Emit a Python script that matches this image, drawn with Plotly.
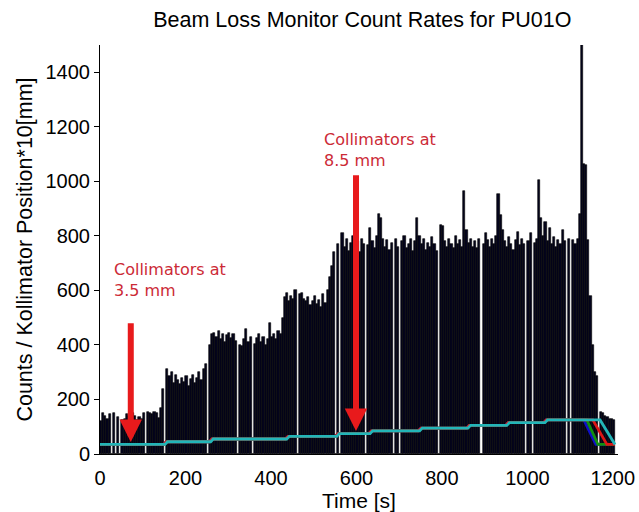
import plotly.graph_objects as go

# ---- data -------------------------------------------------------------
bin_width = 5  # seconds per bin
counts = [
    # t 0-140
    120, 150, 140, 130, 145, 0, 150, 0, 135, 0,
    125, 130, 145, 140, 120, 150, 140, 125, 135, 130,
    150, 0, 155, 150, 145, 155, 150, 132,
    # t 140-250
    170, 240, 0, 310, 285, 300, 260, 290, 270, 255,
    280, 265, 285, 250, 275, 290, 260, 280, 300, 270,
    310, 330,
    # t 250-425
    0, 400, 440, 445, 430, 450, 420, 440, 410, 435,
    445, 425, 440, 415, 0, 400, 395, 420, 460, 410,
    430, 0, 405, 425, 440, 410, 430, 400, 420, 480,
    430, 440, 420, 450, 440,
    # t 425-570
    500, 575, 590, 560, 580, 570, 600, 0, 585, 590,
    570, 560, 575, 545, 560, 580, 550, 565, 540, 585,
    555, 600, 650, 690, 740, 0, 770, 0, 810,
    # t 570-1165
    760, 790, 745, 775, 800, 760, 780, 740, 790, 770,
    0, 765, 830, 780, 755, 800, 880, 865, 790, 760,
    785, 750, 775, 0, 790, 760, 0, 780, 800, 755,
    770, 790, 745, 780, 865, 800, 770, 790, 750, 775,
    760, 795, 770, 745, 0, 840, 835, 780, 760, 790,
    770, 755, 800, 770, 785, 760, 965, 820, 775, 790,
    760, 780, 755, 790, 0, 770, 810, 785, 760, 790,
    770, 800, 955, 875, 820, 780, 760, 795, 770, 750,
    785, 815, 765, 790, 770, 0, 780, 810, 0, 775,
    790, 1005, 865, 800, 850, 780, 830, 770, 795, 760,
    785, 770, 820, 780, 0, 790, 0, 785, 770, 790,
    880, 1500, 1065, 1060, 785, 580, 400, 300, 285,
    # t 1165-1205
    0, 155, 150, 140, 135, 130, 130, 125,
]
bin_centers = [bin_width * i + bin_width / 2 for i in range(len(counts))]

# collimator position * 10 [mm]
step_times = [152, 259, 437, 554, 632, 748, 861, 952, 1041]
levels = [35, 45, 55, 65, 75, 85, 95, 105, 115, 125]
ramp = 6
jaws = {  # name: (colour, time offset of steps, retract start, retract end)
    "blue": ("#1010c8", -3, 1132, 1160),
    "green": ("#109010", -2, 1139, 1165),
    "red": ("#dd1515", -3, 1153, 1186),
    "cyan": ("#22b5b8", 0, 1170, 1205),
}
t_end = 1205

x_ticks = [0, 200, 400, 600, 800, 1000, 1200]
y_ticks = [0, 200, 400, 600, 800, 1000, 1200, 1400]

notes = [
    # text, text x, text top y, arrow x, arrow tail y, arrow tip y
    ("Collimators at<br>3.5 mm", 28, 718, 72, 485, 44),
    ("Collimators at<br>8.5 mm", 519, 1196, 599, 1028, 84),
]

# ---- figure -----------------------------------------------------------
fig = go.Figure()
fig.add_trace(go.Bar(
    x=bin_centers, y=counts, width=bin_width,
    marker=dict(color="#04041c", line=dict(color="black", width=0.6)),
    showlegend=False, hoverinfo="skip",
))

for name, (col, off, r0, r1) in jaws.items():
    xs, ys = [0], [levels[0]]
    for k, ts in enumerate(step_times):
        xs += [ts + off, ts + off + ramp]
        ys += [levels[k], levels[k + 1]]
    xs += [r0, r1, t_end]
    ys += [levels[-1], levels[0], levels[0]]
    fig.add_trace(go.Scatter(x=xs, y=ys, mode="lines",
                             line=dict(color=col, width=2.8),
                             showlegend=False, hoverinfo="skip"))

for txt, tx, ty, axx, ay0, ay1 in notes:
    fig.add_annotation(x=tx, y=ty, xref="x", yref="y", text=txt,
                       showarrow=False, xanchor="left", yanchor="top",
                       align="left",
                       font=dict(family="DejaVu Sans", size=16, color="#cc2a36"))
    fig.add_annotation(x=axx, y=ay1, ax=axx, ay=ay0, xref="x", yref="y",
                       axref="x", ayref="y", text="", showarrow=True,
                       arrowhead=2, arrowsize=0.75, arrowwidth=6,
                       arrowcolor="#e81a1c", standoff=0)

font_main = "Liberation Sans, Arial, sans-serif"
fig.update_layout(
    width=639, height=512,
    margin=dict(l=100, r=21, t=45, b=58),
    paper_bgcolor="white", plot_bgcolor="white",
    bargap=0,
    font=dict(family=font_main, size=20, color="black"),
    title=dict(text="Beam Loss Monitor Count Rates for PU01O",
               x=0.567, xanchor="center", y=0.962, yanchor="middle",
               font=dict(family=font_main, size=21.5, color="black")),
)
fig.update_xaxes(range=[0, 1212], tickvals=x_ticks,
                 ticktext=[str(v) for v in x_ticks],
                 showline=True, linecolor="black", linewidth=1,
                 showgrid=False, zeroline=False, ticks="",
                 automargin=False, ticklabelstandoff=6,
                 tickfont=dict(size=20),
                 title=dict(text="Time [s]", font=dict(size=21), standoff=0))
fig.update_yaxes(range=[0, 1500], tickvals=y_ticks,
                 ticktext=[str(v) for v in y_ticks],
                 showline=True, linecolor="black", linewidth=1,
                 showgrid=False, zeroline=False, ticks="outside", ticklen=5,
                 tickcolor="black", tickfont=dict(size=20),
                 title=dict(text="Counts / Kollimator Position*10[mm]",
                            font=dict(size=21.5), standoff=6))

fig.write_html("out.html")
